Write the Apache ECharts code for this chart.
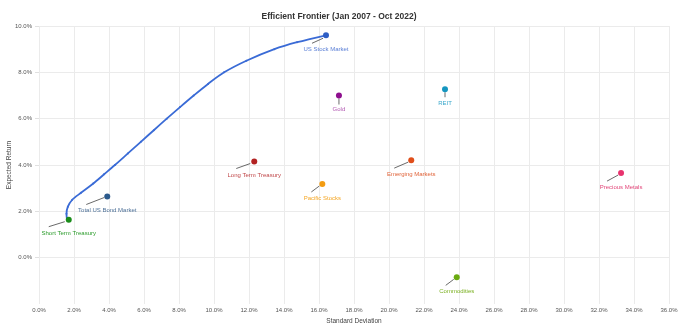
<!DOCTYPE html>
<html>
<head>
<meta charset="utf-8">
<script src="https://cdn.jsdelivr.net/npm/echarts@6/dist/echarts.min.js"></script>
<style>html,body{margin:0;padding:0;background:#fff}#c{width:678px;height:323px}</style>
</head>
<body>
<div id="c"></div>
<script>
// ---- data ----
const chartTitle = 'Efficient Frontier (Jan 2007 - Oct 2022)';
const xTitle = 'Standard Deviation';
const yTitle = 'Expected Return';

const frontierStd    = [1.60, 1.57, 1.65, 1.90, 2.40, 3.10, 3.72, 4.34, 5.08, 5.82, 6.56, 7.30, 8.06, 8.84, 9.66, 10.58, 11.85, 13.45, 14.75, 16.40];
const frontierReturn = [1.64, 1.90, 2.20, 2.50, 2.80, 3.20, 3.60, 4.00, 4.50, 5.00, 5.50, 6.00, 6.50, 7.00, 7.50, 8.00, 8.50, 9.00, 9.30, 9.60];

const assetNames  = ['US Stock Market', 'Gold', 'REIT', 'Long Term Treasury', 'Pacific Stocks', 'Total US Bond Market', 'Short Term Treasury', 'Emerging Markets', 'Precious Metals', 'Commodities'];
const assetStd    = [16.40, 17.14, 23.20, 12.30, 16.19, 3.90, 1.70, 21.27, 33.26, 23.87];
const assetReturn = [9.60, 7.00, 7.27, 4.15, 3.18, 2.64, 1.64, 4.21, 3.65, -0.85];

// ---- styles (pixel offsets / colours, not data) ----
const assetStyles = [
  {c:'#2f5ec4', t:'#5a7fd6', l:[-14, 8, -3, 3]},
  {c:'#8e0f8e', t:'#b35ab3', l:[0, 3, 0, 9]},
  {c:'#1596c0', t:'#3aa8cc', l:[0, 3, 0, 8]},
  {c:'#b22222', t:'#c0484a', l:[-18, 7, -4, 2]},
  {c:'#f39c12', t:'#f5a623', l:[-11, 8, -3, 2]},
  {c:'#2c5a8c', t:'#4f7299', l:[-21, 8, -3, 1]},
  {c:'#1a8c1a', t:'#2c9c2c', l:[-20, 7, -4, 2]},
  {c:'#e04e1a', t:'#e0643a', l:[-17, 8, -3, 2]},
  {c:'#e8336e', t:'#e2487a', l:[-14, 8, -3, 2]},
  {c:'#6aaa10', t:'#7ab020', l:[-11, 8, -3, 2]}
];
const FONT = '"Liberation Sans", Arial, sans-serif';

const chart = echarts.init(document.getElementById('c'), null, {renderer:'canvas'});
const pct = v => v.toFixed(1) + '%';

chart.setOption({
  animation: false,
  backgroundColor: '#fff',
  title: {
    text: chartTitle, left: 'center', top: 7,
    textStyle: {fontSize: 8.5, fontWeight: 'bold', color: '#333', fontFamily: FONT}
  },
  grid: {left: 39, right: 9, top: 26, bottom: 19, containLabel: false, outerBoundsMode: 'none'},
  xAxis: {
    type: 'value', min: 0, max: 36, interval: 2,
    name: xTitle, nameLocation: 'middle', nameGap: 14, nameMoveOverlap: false,
    nameTextStyle: {fontSize: 6.5, color: '#444', fontFamily: FONT},
    axisLine: {show: false}, axisTick: {show: false},
    axisLabel: {formatter: pct, fontSize: 6, color: '#555', margin: 3, fontFamily: FONT},
    splitLine: {show: true, lineStyle: {color: '#ebebeb', width: 1}}
  },
  yAxis: {
    type: 'value', min: -2, max: 10, interval: 2,
    name: yTitle, nameLocation: 'middle', nameGap: 26, nameMoveOverlap: false,
    nameTextStyle: {fontSize: 6.5, color: '#444', fontFamily: FONT},
    axisLine: {show: false},
    axisTick: {show: true, length: 4, lineStyle: {color: '#e0e0e0'}},
    axisLabel: {formatter: pct, fontSize: 6, color: '#555', margin: 7, showMinLabel: false, fontFamily: FONT},
    splitLine: {show: true, showMinLine: false, lineStyle: {color: '#ebebeb', width: 1}}
  },
  series: [
    {
      type: 'line',
      data: frontierStd.map((x, i) => [x, frontierReturn[i]]),
      smooth: 0.3,
      symbol: 'circle', symbolSize: 2, showSymbol: true,
      itemStyle: {color: '#3a6bd6'},
      lineStyle: {color: '#3a6bd6', width: 1.8},
      z: 2
    },
    {
      type: 'custom',
      z: 5,
      data: assetStd.map((x, i) => [x, assetReturn[i]]),
      renderItem: function (params, api) {
        const i = params.dataIndex;
        const p = api.coord([api.value(0), api.value(1)]);
        const st = assetStyles[i];
        return {
          type: 'group',
          children: [
            {type: 'line', shape: {x1: p[0] + st.l[0], y1: p[1] + st.l[1], x2: p[0] + st.l[2], y2: p[1] + st.l[3]},
             style: {stroke: '#444', lineWidth: 0.8}},
            {type: 'circle', shape: {cx: p[0], cy: p[1], r: 3}, style: {fill: st.c}},
            {type: 'text', style: {text: assetNames[i], x: p[0], y: p[1] + 14, align: 'center', verticalAlign: 'middle',
              fill: st.t, fontSize: 6, fontFamily: FONT}}
          ]
        };
      }
    }
  ]
});
</script>
</body>
</html>
